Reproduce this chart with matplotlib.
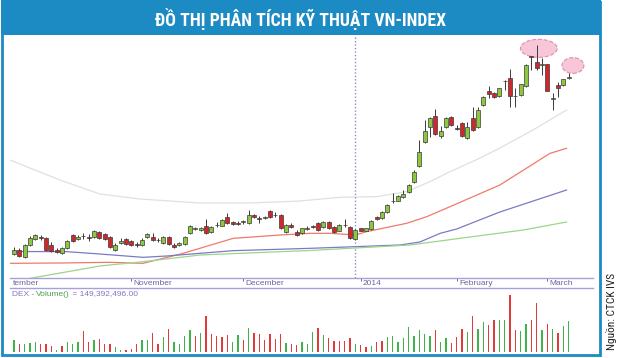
import matplotlib
matplotlib.use('Agg')
import matplotlib.pyplot as plt
from matplotlib.patches import Rectangle, Ellipse
from matplotlib import font_manager as fm

# ---------------- data ----------------
opens = [477.4, 480.0, 476.0, 483.0, 486.6, 488.0, 487.0, 483.0, 480.0, 478.0,
         481.0, 489.0, 486.6, 488.2, 487.6, 488.0, 490.6, 489.4, 488.0, 480.0,
         484.0, 486.6, 485.4, 483.6, 483.0, 487.6, 488.0, 485.8, 484.0, 487.6,
         483.0, 483.0, 483.6, 490.4, 492.8, 492.0, 494.6, 491.0, 494.8, 494.6,
         499.6, 496.8, 496.2, 496.8, 496.0, 501.2, 499.2, 499.2, 503.4, 501.2,
         501.0, 491.0, 495.2, 491.0, 490.0, 492.8, 494.2, 496.0, 494.0, 497.0,
         494.0, 491.6, 495.2, 494.0, 486.4, 493.0, 491.6, 492.4, 499.6, 499.0,
         502.6, 509.2, 509.6, 511.6, 515.0, 521.0, 530.4, 545.0, 554.0, 560.4,
         548.1, 554.0, 559.6, 553.2, 556.2, 547.0, 559.0, 553.6, 567.0, 575.4,
         574.0, 572.4, 581.6, 583.0, 572.2, 573.0, 578.4, 596.2, 593.0, 591.2,
         591.4, 570.8, 579.0, 579.0, 583.2]
highs = [482.0, 481.2, 483.6, 488.6, 489.4, 489.0, 487.8, 484.8, 481.2, 481.8,
         486.0, 489.6, 489.0, 490.2, 489.6, 492.3, 491.4, 490.2, 488.7, 484.2,
         487.2, 487.2, 486.0, 484.8, 487.2, 490.2, 490.2, 487.2, 488.4, 488.4,
         484.2, 484.8, 488.4, 495.3, 494.0, 493.8, 498.4, 494.4, 497.0, 498.6,
         502.0, 497.4, 497.4, 498.0, 504.0, 501.6, 500.4, 500.1, 504.0, 503.0,
         501.6, 495.6, 496.0, 492.0, 493.5, 494.1, 495.3, 496.8, 497.7, 497.4,
         494.4, 495.6, 498.4, 494.4, 492.6, 493.5, 493.5, 498.0, 500.4, 503.7,
         507.6, 514.2, 513.0, 516.0, 519.6, 527.7, 546.0, 558.0, 559.8, 564.4,
         554.4, 559.8, 560.1, 555.0, 556.8, 556.8, 565.8, 565.8, 572.4, 578.4,
         574.8, 577.5, 582.0, 588.4, 577.0, 579.9, 591.6, 596.4, 603.0, 595.0,
         591.9, 574.0, 581.0, 582.9, 586.0]
lows = [477.0, 476.0, 475.2, 482.4, 486.0, 486.0, 479.4, 478.8, 478.2, 477.6,
        480.6, 484.8, 486.0, 486.6, 485.4, 487.5, 486.9, 486.0, 481.5, 479.4,
        483.6, 483.0, 482.4, 481.8, 482.4, 487.2, 485.4, 484.8, 483.6, 483.0,
        481.5, 482.4, 483.0, 489.9, 492.0, 491.4, 489.9, 490.5, 493.6, 494.1,
        495.9, 495.0, 495.0, 495.9, 495.6, 499.2, 496.0, 498.6, 499.5, 500.0,
        492.6, 490.5, 493.5, 488.4, 489.6, 492.0, 493.2, 491.4, 493.5, 492.6,
        490.5, 491.1, 494.0, 486.6, 486.0, 491.1, 491.1, 492.0, 498.0, 498.6,
        502.2, 508.2, 509.1, 511.2, 514.5, 520.5, 529.8, 544.0, 547.8, 549.0,
        547.5, 553.2, 554.4, 552.0, 547.8, 546.6, 551.4, 553.2, 566.4, 571.2,
        571.2, 571.8, 576.0, 566.0, 566.0, 572.4, 577.8, 588.0, 588.0, 585.0,
        575.1, 564.0, 572.0, 578.4, 582.9]
closes = [480.0, 476.6, 483.0, 487.0, 489.0, 487.4, 480.0, 479.4, 478.6, 481.0,
          485.4, 485.4, 487.8, 488.6, 487.2, 491.6, 487.4, 486.6, 482.0, 483.0,
          485.4, 483.4, 483.0, 483.2, 486.0, 489.4, 486.0, 486.2, 487.6, 483.6,
          482.0, 484.4, 488.0, 494.6, 493.2, 493.0, 490.4, 493.6, 495.2, 498.0,
          496.4, 495.6, 495.8, 497.2, 500.8, 499.6, 498.8, 499.6, 500.0, 500.8,
          493.0, 495.0, 494.0, 489.0, 493.0, 493.2, 493.8, 492.0, 497.0, 493.0,
          491.0, 495.0, 494.8, 487.0, 492.0, 491.6, 493.0, 497.6, 498.4, 503.0,
          507.0, 509.6, 512.4, 513.6, 519.0, 527.0, 539.0, 551.6, 559.0, 549.6,
          551.6, 559.0, 555.0, 552.8, 548.4, 554.0, 552.0, 564.0, 571.8, 573.6,
          572.0, 577.0, 581.2, 572.4, 572.6, 579.4, 591.0, 595.6, 589.0, 591.6,
          575.6, 571.2, 577.0, 582.4, 583.6]

# volume, millions of shares
volumes = [56, 40, 37, 45, 48, 40, 40, 27, 8, 27,
           48, 40, 48, 100, 48, 59, 64, 37, 37, 24,
           8, 8, 16, 37, 56, 56, 93, 40, 72, 109,
           48, 37, 76, 105, 76, 93, 172, 88, 76, 72,
           83, 48, 80, 59, 116, 92, 88, 56, 88, 64,
           88, 45, 37, 34, 48, 37, 96, 116, 83, 67,
           52, 52, 52, 67, 40, 32, 24, 27, 48, 52,
           72, 76, 48, 69, 120, 76, 107, 88, 76, 105,
           48, 69, 43, 72, 109, 96, 174, 109, 145, 132,
           156, 153, 153, 273, 105, 101, 136, 153, 236, 107,
           136, 112, 92, 124, 149.392496]
vol_up = [1, 0, 1, 1, 1, 0, 0, 0, 1, 0,
          1, 1, 1, 0, 0, 1, 0, 0, 0, 1,
          1, 0, 0, 0, 1, 1, 0, 0, 1, 0,
          1, 1, 1, 1, 0, 1, 0, 0, 0, 0,
          0, 1, 1, 0, 1, 0, 0, 0, 0, 0,
          0, 1, 0, 0, 1, 1, 1, 0, 1, 0,
          0, 0, 0, 0, 1, 0, 0, 1, 0, 0,
          1, 1, 1, 1, 1, 1, 1, 1, 1, 0,
          1, 1, 0, 0, 0, 1, 0, 1, 1, 0,
          0, 1, 1, 0, 0, 1, 1, 0, 0, 1,
          0, 1, 0, 1, 1]

# moving-average style lines (session index, index level)
ma_gray_x = [-0.75, 3.0, 8.6, 16.1, 23.6, 34.9, 44.3, 53.6, 61.1, 68.0, 73.6, 78.0, 81.75, 87.4, 91.1, 97.3, 103.6]
ma_gray_y = [534.0, 529.2, 522.0, 513.6, 510.6, 508.2, 508.2, 509.4, 511.6, 512.0, 515.0, 521.0, 527.0, 535.2, 541.2, 552.0, 564.0]
ma_red_x = [-0.75, 8.6, 18.0, 24.2, 31.7, 41.1, 49.9, 55.5, 59.3, 64.0, 66.1, 73.6, 77.4, 81.75, 91.1, 100.5, 103.6]
ma_red_y = [472.0, 472.2, 472.6, 472.0, 478.0, 487.0, 489.0, 490.0, 490.0, 489.0, 491.0, 496.0, 500.0, 506.0, 519.0, 538.0, 541.0]
ma_blue_x = [0.0, 9.9, 16.1, 24.2, 28.6, 41.1, 55.5, 64.0, 72.4, 76.1, 79.9, 83.0, 91.1, 103.6]
ma_blue_y = [479.1, 479.0, 477.6, 475.6, 476.4, 479.6, 481.0, 482.0, 483.0, 484.8, 490.0, 492.6, 502.8, 516.0]
ma_green_x = [-0.75, 3.0, 16.1, 24.2, 34.9, 49.9, 55.5, 64.0, 74.25, 83.6, 95.5, 103.6]
ma_green_y = [458.4, 463.0, 470.4, 473.0, 477.0, 479.0, 479.7, 481.2, 483.0, 487.0, 492.0, 496.8]

# month axis: first label is the visible tail of "September" at the left edge
month_labels = ['tember', 'November', 'December', '2014', 'February', 'March']
month_pos = [-0.6, 22, 43, 65, 83, 100]
month_tick = [False, True, True, True, True, True]
marker_session = 64
title = 'ĐỒ THỊ PHÂN TÍCH KỸ THUẬT VN-INDEX'
source = 'Nguồn: CTCK IVS'
vol_prefix, vol_name, vol_value = 'DEX - ', 'Volume()', ' = 149,392,496.00'


def pick(names):
    for n in names:
        try:
            fm.findfont(fm.FontProperties(family=n), fallback_to_default=False)
            return n
        except Exception:
            pass
    return 'DejaVu Sans'


narrow = pick(['Liberation Sans Narrow', 'DejaVu Sans Condensed', 'Roboto Condensed',
               'Open Sans Condensed', 'Roboto'])
label_font = pick(['Liberation Sans', 'Arial', 'DejaVu Sans'])

W, H = 620, 358
fig = plt.figure(figsize=(W / 100, H / 100), dpi=100)


def rect(l, t, r, b):
    return [l / W, 1 - b / H, (r - l) / W, (b - t) / H]


blue = '#1d8bc3'
fig.patches.append(Rectangle((2 / W, 1 - 355 / H), 598 / W, 353 / H, transform=fig.transFigure,
                             fill=False, ec=blue, lw=2.0, zorder=0))
fig.patches.append(Rectangle((1 / W, 1 - 35 / H), 600 / W, 35 / H, transform=fig.transFigure,
                             fc=blue, ec='none', zorder=0))

XL = (-0.75, 108.56)

# ---- price panel ----
ax = fig.add_axes(rect(10, 36, 593, 278))
ax.set_xlim(*XL)
ax.set_ylim(463.2, 608.4)
ax.axis('off')

ax.plot(ma_gray_x, ma_gray_y, color='#e0e0e0', lw=0.9, zorder=1)
ax.plot(ma_red_x, ma_red_y, color='#f07a6a', lw=0.9, zorder=1)
ax.plot(ma_blue_x, ma_blue_y, color='#7a7ac8', lw=0.9, zorder=1)
ax.plot(ma_green_x, ma_green_y, color='#9cd68c', lw=0.9, zorder=1)
ax.axvline(marker_session, color='#8c8cd2', ls=(0, (1, 1.5)), lw=1.0, zorder=1)

last = len(closes) - 1
ax.add_patch(Ellipse((98.4, highs[98] - 2.0), 6.9, 10.8, fc='#f7c6d8', ec='#e58aae',
                     ls='--', lw=0.8, zorder=1.5))
ax.add_patch(Ellipse((last + 0.8, highs[last] + 4.7), 4.1, 9.4, fc='#f7c6d8', ec='#e58aae',
                     ls='--', lw=0.8, zorder=1.5))

for i, (o, h, l, c) in enumerate(zip(opens, highs, lows, closes)):
    up = c >= o
    ax.vlines(i, l, h, color='#3a3a3a', lw=0.7, zorder=2)
    bottom = min(o, c)
    height = max(abs(c - o), 0.35)
    ax.add_patch(Rectangle((i - 0.36, bottom), 0.72, height,
                           fc='#8dc63f' if up else '#d3262b', ec='#3a3a3a', lw=0.5, zorder=3))

# ---- date band ----
band = fig.add_axes(rect(10, 278, 593, 288))
band.set_xlim(*XL)
band.set_ylim(0, 1)
band.set_xticks([])
band.set_yticks([])
band.patch.set_alpha(0)
for s in ['left', 'right']:
    band.spines[s].set_visible(False)
for s in ['top', 'bottom']:
    band.spines[s].set_color('#a89fdc')
    band.spines[s].set_linewidth(1.0)
for p, lab, tk in zip(month_pos, month_labels, month_tick):
    if tk:
        band.vlines(p, 0.72, 1.0, color='#6a6a9a', lw=0.7)
    band.text(p + 0.45, 0.42, lab, fontsize=6, color='#6a6a9a', family=label_font,
              ha='left', va='center')

# ---- volume panel ----
axv = fig.add_axes(rect(10, 290, 593, 352))
axv.set_xlim(*XL)
axv.set_ylim(0, 298.8)
axv.axis('off')
axv.bar(range(len(volumes)), volumes, width=0.3,
        color=['#3fb24a' if u else '#e03a3a' for u in vol_up], zorder=2)

t1 = fig.text(11.5 / W, 1 - 294 / H, vol_prefix, fontsize=6, color='#8078c0',
              family=label_font, ha='left', va='center')
t2 = fig.text(0, 0, vol_name, fontsize=6, color='#4aa04a', family=label_font,
              ha='left', va='center')
t3 = fig.text(0, 0, vol_value, fontsize=6, color='#8078c0', family=label_font,
              ha='left', va='center')

# ---- titles ----
tt = fig.text(301 / W, 1 - 18.5 / H, title, color='white', fontweight='bold', fontsize=14,
              family=[narrow, 'DejaVu Sans'], ha='center', va='center')
ts = fig.text(611.5 / W, 1 - 311.5 / H, source, color='#222222', fontsize=10, rotation=90,
              family=[narrow, 'DejaVu Sans'], ha='center', va='center')

fig.canvas.draw()
r = fig.canvas.get_renderer()
bw = tt.get_window_extent(r).width
tt.set_fontsize(min(15.0, 14 * 292.0 / bw))
bh = ts.get_window_extent(r).height
ts.set_fontsize(min(11.0, 10 * 77.0 / bh))

# place coloured volume text pieces side by side
b1 = t1.get_window_extent(r)
inv = fig.transFigure.inverted()
x2 = inv.transform((b1.x1, 0))[0]
t2.set_position((x2, 1 - 294 / H))
fig.canvas.draw()
b2 = t2.get_window_extent(r)
x3 = inv.transform((b2.x1, 0))[0]
t3.set_position((x3, 1 - 294 / H))

fig.savefig('out.png', dpi=100)
